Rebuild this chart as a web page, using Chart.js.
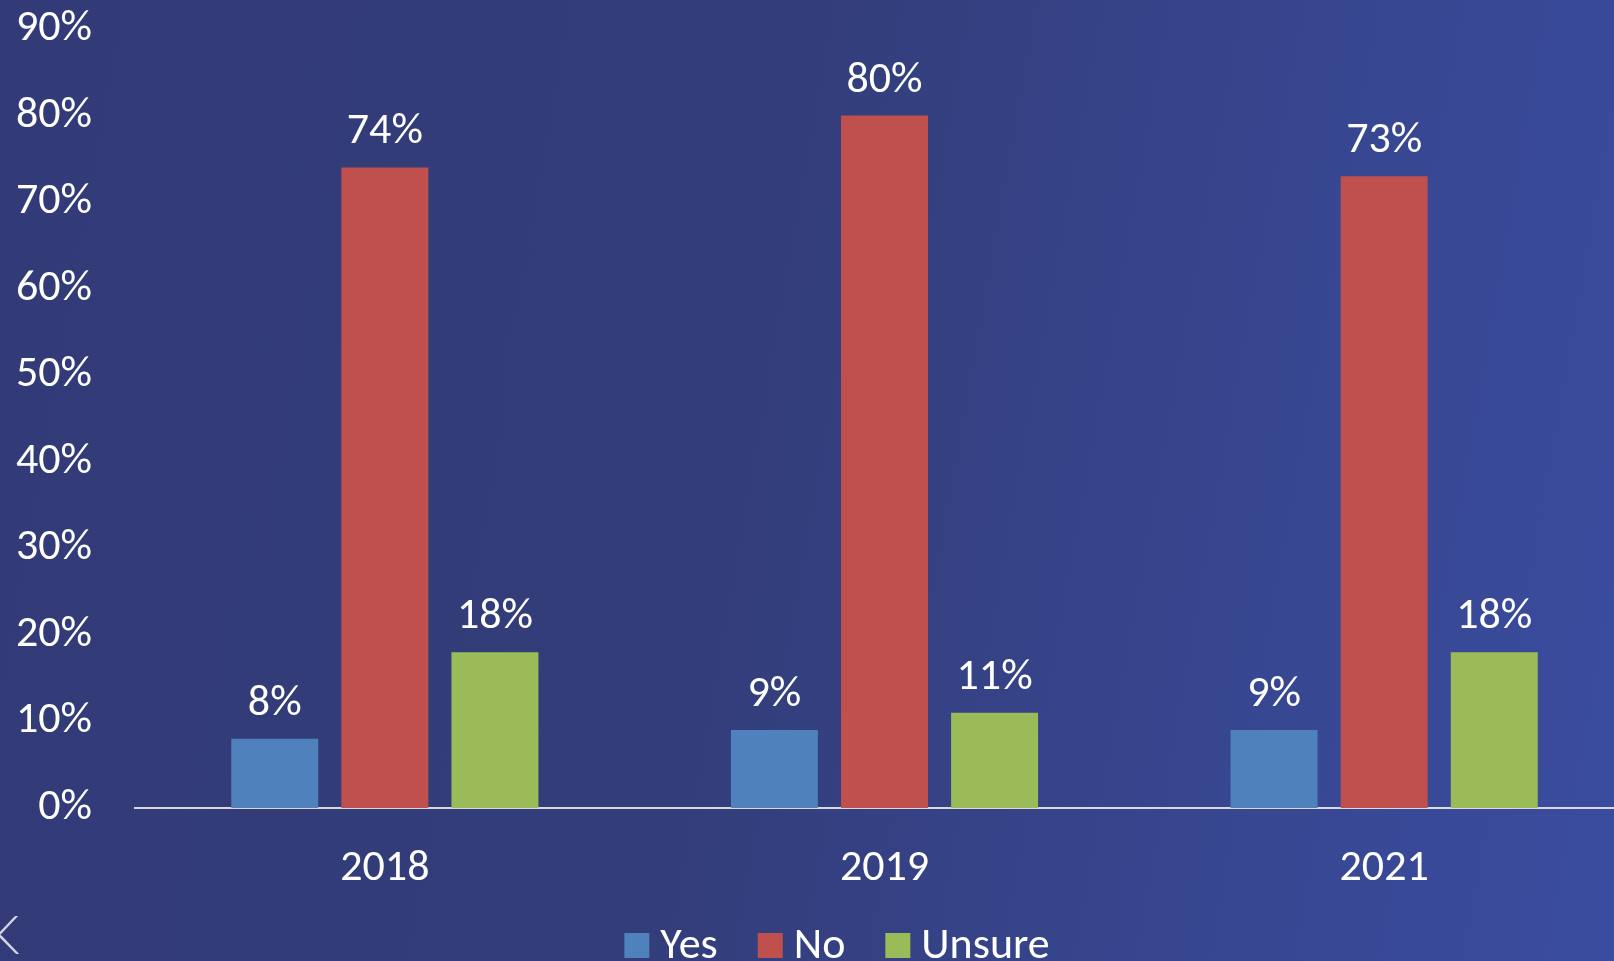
<!DOCTYPE html>
<html>
<head>
<meta charset="utf-8">
<script src="https://cdn.jsdelivr.net/npm/chart.js@4/dist/chart.umd.min.js"></script>
<style>
  html, body { margin: 0; padding: 0; }
  body {
    width: 1614px; height: 961px; overflow: hidden; position: relative;
    background: linear-gradient(100deg, #323b77 0%, #333d7a 45%, #37468f 75%, #3a4c9f 100%);
    font-family: Carlito, Lato, sans-serif;
  }
  #wrap { position: absolute; left: 0; top: 0; width: 1634px; height: 961px; }
  #corner {
    position: absolute; left: -14px; top: 902px; font-size: 53px; font-weight: 300;
    color: #d4d6e4; font-family: Lato, sans-serif;
  }
</style>
</head>
<body>
<div id="wrap"><canvas id="surveyChart"></canvas></div>
<div id="corner">K</div>
<script>
(function () {
  'use strict';

  // ---- data ----
  var years = ['2018', '2019', '2021'];
  var seriesNames = ['Yes', 'No', 'Unsure'];
  var yesValues = [8, 9, 9];
  var noValues = [74, 80, 73];
  var unsureValues = [18, 11, 18];
  var yTicks = [0, 10, 20, 30, 40, 50, 60, 70, 80, 90];

  var colors = ['#4f81bd', '#c0504d', '#9bbb59'];
  var fontFamily = 'Carlito, Lato, sans-serif';
  var fontSize = 44;

  // value labels above each bar
  var barLabels = {
    id: 'barLabels',
    afterDatasetsDraw: function (chart) {
      var ctx = chart.ctx;
      ctx.save();
      ctx.fillStyle = '#ffffff';
      ctx.font = fontSize + 'px ' + fontFamily;
      ctx.textAlign = 'center';
      ctx.textBaseline = 'alphabetic';
      chart.data.datasets.forEach(function (ds, i) {
        chart.getDatasetMeta(i).data.forEach(function (bar, j) {
          ctx.fillText(ds.data[j] + '%', bar.x, bar.y - 24);
        });
      });
      ctx.restore();
    }
  };

  // legend drawn at the bottom, centred a bit right of the page middle
  var bottomLegend = {
    id: 'bottomLegend',
    afterDraw: function (chart) {
      var ctx = chart.ctx;
      var box = 25, gap = 11, spacing = 40, baseY = 958, centerX = 837;
      ctx.save();
      ctx.font = fontSize + 'px ' + fontFamily;
      ctx.textBaseline = 'alphabetic';
      ctx.textAlign = 'left';
      var widths = chart.data.datasets.map(function (ds) { return ctx.measureText(ds.label).width; });
      var total = 0;
      widths.forEach(function (w) { total += box + gap + w; });
      total += spacing * (widths.length - 1);
      var x = centerX - total / 2;
      chart.data.datasets.forEach(function (ds, i) {
        ctx.fillStyle = ds.backgroundColor;
        ctx.fillRect(x, baseY - box, box, box);
        ctx.fillStyle = '#ffffff';
        ctx.fillText(ds.label, x + box + gap, baseY);
        x += box + gap + widths[i] + spacing;
      });
      ctx.restore();
    }
  };

  Chart.defaults.font.family = fontFamily;
  Chart.defaults.color = '#ffffff';

  new Chart(document.getElementById('surveyChart').getContext('2d'), {
    type: 'bar',
    data: {
      labels: years,
      datasets: [
        { label: seriesNames[0], data: yesValues, backgroundColor: colors[0] },
        { label: seriesNames[1], data: noValues, backgroundColor: colors[1] },
        { label: seriesNames[2], data: unsureValues, backgroundColor: colors[2] }
      ]
    },
    options: {
      responsive: true,
      maintainAspectRatio: false,
      animation: false,
      categoryPercentage: 0.661,
      barPercentage: 0.79,
      layout: { padding: { top: 29, right: 0, bottom: 53, left: 0 } },
      plugins: {
        legend: { display: false },
        tooltip: { enabled: false }
      },
      scales: {
        x: {
          grid: { display: false, drawTicks: false },
          border: { display: true, color: '#d9d9d9', width: 2 },
          ticks: { font: { size: fontSize }, padding: 35, color: '#ffffff' },
          afterFit: function (scale) {
            scale.height = 100;
            scale.paddingLeft = 0; scale.paddingRight = 0;
          }
        },
        y: {
          min: yTicks[0],
          max: yTicks[yTicks.length - 1],
          grid: { display: false, drawTicks: false },
          border: { display: false },
          afterBuildTicks: function (scale) {
            scale.ticks = yTicks.map(function (v) { return { value: v }; });
          },
          ticks: {
            font: { size: fontSize },
            padding: 43,
            color: '#ffffff',
            callback: function (v) { return v + '%'; }
          },
          afterFit: function (scale) {
            scale.width = 135;
            scale.paddingTop = 0; scale.paddingBottom = 0;
          }
        }
      }
    },
    plugins: [barLabels, bottomLegend]
  });
})();
</script>
</body>
</html>
